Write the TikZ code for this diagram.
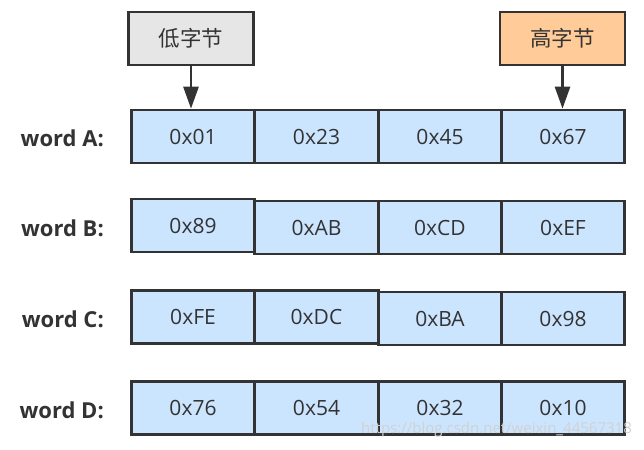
\documentclass[tikz,border=0pt]{standalone}
\usepackage{fontspec}
\setmainfont{Open Sans}
\newfontfamily\cjk{Noto Sans CJK SC}
\usetikzlibrary{arrows.meta}
\definecolor{cellblue}{HTML}{CCE5FF}
\definecolor{edge}{HTML}{333333}
\definecolor{lowgray}{HTML}{E6E6E6}
\definecolor{highorange}{HTML}{FFCC99}
\tikzset{
  cell/.style={draw=edge, line width=2.6pt, fill=cellblue, minimum width=123.5pt, minimum height=53pt, inner sep=0pt, text=edge, font=\fontsize{21}{21}\selectfont},
  tag/.style={draw=edge, line width=2.6pt, minimum width=125pt, minimum height=53pt, inner sep=0pt, text=edge, font=\cjk\fontsize{21.5}{21.5}\selectfont},
  rowlabel/.style={anchor=east, text=edge, font=\bfseries\fontsize{22}{22}\selectfont, inner sep=0pt},
  ptr/.style={draw=edge, line width=2.6pt, -{Triangle[width=15pt,length=22pt]}}
}
\begin{document}
\begin{tikzpicture}[x=1pt,y=-1pt]
\useasboundingbox (0,0) rectangle (644,449);
% row A
\node[cell] (A1) at (193,136.5) {0x01};
\node[cell] (A2) at (316.5,136.5) {0x23};
\node[cell] (A3) at (440,136.5) {0x45};
\node[cell] (A4) at (563,136.5) {0x67};
% row B
\node[cell] (B1) at (193,225.5) {0x89};
\node[cell] (B2) at (316.5,227.5) {0xAB};
\node[cell] (B3) at (440,227.5) {0xCD};
\node[cell] (B4) at (563,227.5) {0xEF};
% row C
\node[cell] (C1) at (193,317) {0xFE};
\node[cell] (C2) at (316.5,317) {0xDC};
\node[cell] (C3) at (440,318.5) {0xBA};
\node[cell] (C4) at (563,318.5) {0x98};
% row D
\node[cell] (D1) at (193,408) {0x76};
\node[cell] (D2) at (316.5,408) {0x54};
\node[cell] (D3) at (440,408) {0x32};
\node[cell] (D4) at (563,408) {0x10};
% row labels
\node[rowlabel] (LA) at (104,138) {word A:};
\node[rowlabel] (LB) at (104,228) {word B:};
\node[rowlabel] (LC) at (104,319) {word C:};
\node[rowlabel] (LD) at (104,410) {word D:};
% tags
\node[tag, fill=lowgray] (low) at (191,38.5) {低字节};
\node[tag, fill=highorange] (high) at (562.5,38.5) {高字节};
\draw[ptr] (low.south) -- (low.south |- A1.north);
\draw[ptr] (high.south) -- (high.south |- A4.north);
% watermark
\node[anchor=west, text=black!18, font=\fontsize{15}{15}\selectfont, inner sep=0pt] (wm) at (361,430) {https://blog.csdn.net/weixin\_44567318};
\end{tikzpicture}
\end{document}
